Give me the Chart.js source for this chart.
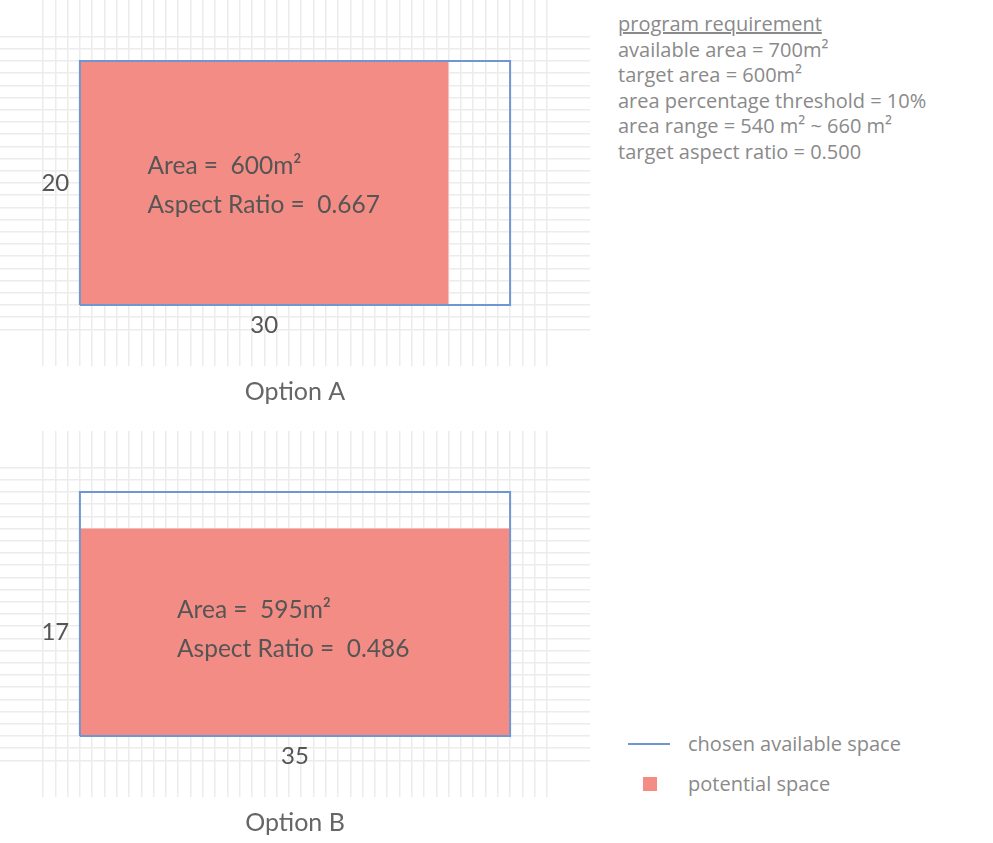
<!DOCTYPE html>
<html>
<head>
<meta charset="utf-8">
<script src="https://cdn.jsdelivr.net/npm/chart.js@4.4.1/dist/chart.umd.min.js"></script>
<style>
  body { margin: 0; width: 993px; height: 843px; background: #fff; overflow: hidden; position: relative; }
  .panel { position: absolute; left: 0; width: 590px; height: 414px; }
  #requirements { position: absolute; left: 618px; top: 11px; font-family: "Open Sans", sans-serif; font-size: 20px; line-height: 25.6px; color: #8a8a8a; white-space: nowrap; }
  #requirements .head { text-decoration: underline; }
  #legend { position: absolute; left: 628px; top: 730px; font-family: "Open Sans", sans-serif; font-size: 20px; line-height: 28px; color: #8a8a8a; }
  .row { position: relative; height: 40px; }
  .row span.t { position: absolute; left: 60px; top: 0; white-space: nowrap; }
  .line { position: absolute; left: 0; top: 13px; width: 42px; height: 1.5px; background: #7096d2; }
  .sq { position: absolute; left: 15px; top: 7px; width: 14px; height: 14px; background: #f38c84; }
</style>
</head>
<body>
<div class="panel" style="top:0"><canvas id="chartA"></canvas></div>
<div class="panel" style="top:431px"><canvas id="chartB"></canvas></div>
<div id="requirements"></div>
<div id="legend"></div>
<script>
// chart values (metres)
const optionNames = ['Option A', 'Option B'];
const availableWidth = [35, 35];
const availableHeight = [20, 20];
const potentialWidth = [30, 35];
const potentialHeight = [20, 17];
const areaLabels = ['600m²', '595m²'];
const ratioLabels = ['0.667', '0.486'];
const requirementLines = [
    'program requirement',
    'available area = 700m²',
    'target area = 600m²',
    'area percentage threshold = 10%',
    'area range = 540 m² ~ 660 m²',
    'target aspect ratio = 0.500'
];
const legendLabels = ['chosen available space', 'potential space'];

const blue = '#7096d2';
const salmon = '#f38c84';
const gridColor = '#ececec';

// grid ticks, every metre
function integerTicks(from, to) {
    const ticks = [];
    for (let v = from; v <= to; v++) ticks.push({ value: v });
    return ticks;
}

// text labels drawn at data coordinates
const labelPlugin = {
    id: 'labels',
    afterDatasetsDraw(chart, args, opts) {
        const { ctx, scales: { x, y } } = chart;
        ctx.save();
        ctx.fillStyle = '#555';
        ctx.textBaseline = 'middle';

        ctx.font = '24px Lato, sans-serif';
        ctx.textAlign = 'center';
        ctx.fillText(String(opts.h), x.getPixelForValue(-2), y.getPixelForValue(opts.h / 2));
        ctx.fillText(String(opts.w), x.getPixelForValue(opts.w / 2), y.getPixelForValue(-1.7));

        ctx.font = '24.5px Lato, sans-serif';
        ctx.textAlign = 'left';
        ctx.fillText('Area =  ' + opts.area, x.getPixelForValue(opts.tx), y.getPixelForValue(opts.ty));
        ctx.fillText('Aspect Ratio =  ' + opts.ratio, x.getPixelForValue(opts.tx), y.getPixelForValue(opts.ty - 3.2));
        ctx.restore();
    }
};

function makeChart(id, i, textPos) {
    const aw = availableWidth[i], ah = availableHeight[i];
    const pw = potentialWidth[i], ph = potentialHeight[i];
    return new Chart(document.getElementById(id), {
        type: 'line',
        data: {
            datasets: [
                {
                    label: legendLabels[0],
                    data: [{ x: 0, y: 0 }, { x: aw, y: 0 }, { x: aw, y: ah }, { x: 0, y: ah }, { x: 0, y: 0 }],
                    borderColor: blue,
                    borderWidth: 2,
                    pointRadius: 0,
                    fill: false,
                    tension: 0
                },
                {
                    label: legendLabels[1],
                    data: [{ x: 0, y: ph }, { x: pw, y: ph }],
                    borderWidth: 0,
                    borderColor: salmon,
                    backgroundColor: salmon,
                    pointRadius: 0,
                    fill: { value: 0 }
                }
            ]
        },
        options: {
            responsive: true,
            maintainAspectRatio: false,
            animation: false,
            layout: { padding: 0 },
            scales: {
                x: {
                    type: 'linear',
                    min: -6.5,
                    max: 41.5,
                    afterBuildTicks: scale => { scale.ticks = integerTicks(-3, 38); },
                    ticks: { display: false },
                    border: { display: false },
                    grid: { color: gridColor, lineWidth: 1.5, drawTicks: false }
                },
                y: {
                    type: 'linear',
                    min: -5,
                    max: 25,
                    afterBuildTicks: scale => { scale.ticks = integerTicks(-2, 22); },
                    ticks: { display: false },
                    border: { display: false },
                    grid: { color: gridColor, lineWidth: 1.5, drawTicks: false }
                }
            },
            plugins: {
                legend: { display: false },
                tooltip: { enabled: false },
                title: {
                    display: true,
                    position: 'bottom',
                    text: optionNames[i],
                    color: '#666',
                    font: { family: 'Lato, sans-serif', size: 25, weight: 'normal', lineHeight: 1.2 },
                    padding: { top: 11, bottom: 7 }
                },
                labels: {
                    w: pw, h: ph, area: areaLabels[i], ratio: ratioLabels[i],
                    tx: textPos[0], ty: textPos[1]
                }
            }
        },
        plugins: [labelPlugin]
    });
}

makeChart('chartA', 0, [5.5, 11.4]);
makeChart('chartB', 1, [7.9, 10.3]);

// requirement text block
document.getElementById('requirements').innerHTML = requirementLines
    .map((t, k) => '<div' + (k === 0 ? ' class="head"' : '') + '>' + t + '</div>').join('');

// legend
document.getElementById('legend').innerHTML =
    '<div class="row"><div class="line"></div><span class="t">' + legendLabels[0] + '</span></div>' +
    '<div class="row"><div class="sq"></div><span class="t">' + legendLabels[1] + '</span></div>';
</script>
</body>
</html>
